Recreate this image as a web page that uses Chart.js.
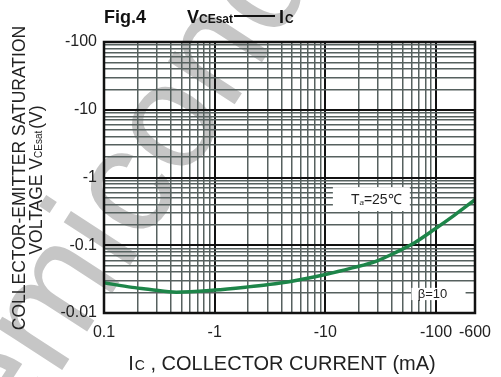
<!DOCTYPE html>
<html>
<head>
<meta charset="utf-8">
<script src="https://cdn.jsdelivr.net/npm/chart.js@4.4.0/dist/chart.umd.min.js"></script>
<style>
  body { margin: 0; background: #fff; }
  #wrap { width: 501px; height: 377px; position: relative; }
</style>
</head>
<body>
<div id="wrap"><canvas id="chart"></canvas></div>
<script>
// VCEsat vs Ic curve (magnitudes: mA and V)
const icValues  = [0.1, 0.18, 0.26, 0.45, 1, 2, 3, 5, 10, 17.5, 28.6, 43, 64.6, 97, 146, 225];
const vceValues = [0.0279, 0.0239, 0.0223, 0.0203, 0.0218, 0.0243, 0.0262, 0.0295, 0.037, 0.0463, 0.058, 0.078, 0.11, 0.172, 0.276, 0.47];

// the right edge is labelled -600 in the original, but sits where ~225 would on the log grid
const X_MIN = 0.1, X_MAX = 225;
const Y_MIN = 0.01, Y_MAX = 100;
const xTickValues = [0.1, 1, 10, 100, 225];
const xTickLabels = ['0.1', '-1', '-10', '-100', '-600'];
const yTickValues = [0.01, 0.1, 1, 10, 100];
const yTickLabels = ['-0.01', '-0.1', '-1', '-10', '-100'];

const FONT = '"Liberation Sans", Arial, sans-serif';

// log grid: 1..9 in every decade, plus the last value
function gridTicks(decades, last) {
    var out = [];
    decades.forEach(function(d) {
        for (var k = 1; k <= 9; k++) out.push(+(d * k).toPrecision(6));
    });
    out.push(last);
    return out.map(function(v) { return { value: v }; });
}

function labelFor(values, labels, v) {
    for (var i = 0; i < values.length; i++) {
        if (Math.abs(values[i] - v) / values[i] < 1e-6) return labels[i];
    }
    return '';
}

function isMajor(v) {
    var l = Math.log10(v);
    return Math.abs(l - Math.round(l)) < 1e-6;
}

// draws a row of text runs (font changes for subscripts) starting at x
function drawRuns(ctx, runs, x, y) {
    runs.forEach(function(r) {
        ctx.font = r.font;
        ctx.fillText(r.t, x, y + (r.dy || 0));
        x += ctx.measureText(r.t).width + (r.gap || 0);
    });
    return x;
}
function runsWidth(ctx, runs) {
    var w = 0;
    runs.forEach(function(r) { ctx.font = r.font; w += ctx.measureText(r.t).width + (r.gap || 0); });
    return w;
}

const extras = {
    id: 'extras',
    beforeDraw: function(chart) {
        var ctx = chart.ctx;
        ctx.save();
        ctx.fillStyle = '#fff';
        ctx.fillRect(0, 0, chart.width, chart.height);
        // watermark
        ctx.translate(-78, 510);
        ctx.rotate(-57 * Math.PI / 180);
        ctx.fillStyle = '#c6c6c6';
        ctx.font = '150px ' + FONT;
        ctx.textBaseline = 'middle';
        ctx.fillText('Semiconductor', 0, 0);
        ctx.restore();
    },
    beforeDatasetsDraw: function(chart) {
        var ctx = chart.ctx, xs = chart.scales.x, ys = chart.scales.y;
        ctx.save();
        ctx.fillStyle = '#fff';
        // Ta box
        var x1 = xs.getPixelForValue(11.7), x2 = xs.getPixelForValue(58);
        var y1 = ys.getPixelForValue(0.72), y2 = ys.getPixelForValue(0.32);
        ctx.fillRect(x1, y1, x2 - x1, y2 - y1);
        // beta box
        var bx1 = xs.getPixelForValue(60), bx2 = xs.getPixelForValue(185);
        var by1 = ys.getPixelForValue(0.0235), by2 = ys.getPixelForValue(0.0155);
        ctx.fillRect(bx1, by1, bx2 - bx1, by2 - by1);

        ctx.fillStyle = '#222';
        ctx.textBaseline = 'alphabetic';
        drawRuns(ctx, [
            { t: 'T', font: '14px ' + FONT },
            { t: 'a', font: 'italic 8px ' + FONT, dy: 1 },
            { t: '=25\u2103', font: '14px ' + FONT }
        ], x1 + 18, y1 + 17);
        ctx.font = '13px ' + FONT;
        ctx.textAlign = 'center';
        ctx.fillText('\u03b2=10', (bx1 + bx2) / 2 - 6, by2 - 2);
        ctx.restore();
    },
    afterDraw: function(chart) {
        var ctx = chart.ctx, a = chart.chartArea;
        ctx.save();
        // frame
        ctx.strokeStyle = '#111';
        ctx.lineWidth = 2.5;
        ctx.strokeRect(a.left, a.top, a.right - a.left, a.bottom - a.top);

        ctx.fillStyle = '#111';
        ctx.textBaseline = 'alphabetic';
        // title
        drawRuns(ctx, [{ t: 'Fig.4', font: 'bold 18px ' + FONT }], 104, 23);
        var tx = drawRuns(ctx, [
            { t: 'V', font: 'bold 18px ' + FONT },
            { t: 'CEsat', font: 'bold 12px ' + FONT }
        ], 187, 23);
        ctx.fillRect(tx + 1, 15, 41, 2);
        drawRuns(ctx, [
            { t: 'I', font: 'bold 18px ' + FONT, gap: 1 },
            { t: 'C', font: 'bold 12px ' + FONT }
        ], tx + 46, 23);

        // x axis title
        ctx.fillStyle = '#222';
        var xr = [
            { t: 'I', font: '20px ' + FONT, gap: 1 },
            { t: 'C', font: '14px ' + FONT },
            { t: ' , COLLECTOR CURRENT (mA)', font: '20px ' + FONT }
        ];
        drawRuns(ctx, xr, 282 - runsWidth(ctx, xr) / 2, 370);

        // y axis title, two rotated lines
        ctx.save();
        ctx.translate(25, 178);
        ctx.rotate(-Math.PI / 2);
        var l1 = [{ t: 'COLLECTOR-EMITTER SATURATION', font: '17.5px ' + FONT }];
        drawRuns(ctx, l1, -runsWidth(ctx, l1) / 2, 0);
        ctx.restore();
        ctx.save();
        ctx.translate(42, 180);
        ctx.rotate(-Math.PI / 2);
        var l2 = [
            { t: 'VOLTAGE V', font: '17.5px ' + FONT },
            { t: 'CEsat', font: '10px ' + FONT, gap: 2 },
            { t: '(V)', font: '17.5px ' + FONT }
        ];
        drawRuns(ctx, l2, -runsWidth(ctx, l2) / 2, 0);
        ctx.restore();
        ctx.restore();
    }
};

function gridColor(ctx) {
    return isMajor(ctx.tick.value) ? '#111' : '#56615f';
}
function gridWidth(ctx) {
    return isMajor(ctx.tick.value) ? 2 : 1.5;
}

new Chart(document.getElementById('chart'), {
    type: 'line',
    data: {
        datasets: [{
            data: icValues.map(function(v, i) { return { x: v, y: vceValues[i] }; }),
            borderColor: '#1d8549',
            borderWidth: 3.5,
            pointRadius: 0,
            cubicInterpolationMode: 'monotone',
            fill: false
        }]
    },
    options: {
        responsive: true,
        maintainAspectRatio: false,
        animation: false,
        layout: { padding: { top: 42, right: 19, left: 0, bottom: 0 } },
        plugins: { legend: { display: false }, tooltip: { enabled: false } },
        scales: {
            x: {
                type: 'logarithmic',
                min: X_MIN,
                max: X_MAX,
                afterBuildTicks: function(scale) {
                    scale.ticks = gridTicks([0.1, 1, 10], 100).concat([{ value: X_MAX }]);
                },
                afterFit: function(scale) { scale.height = 64; },
                border: { display: false },
                grid: { color: gridColor, lineWidth: gridWidth, drawTicks: false },
                ticks: {
                    autoSkip: false,
                    maxRotation: 0,
                    padding: 10,
                    color: '#222',
                    font: { family: FONT, size: 16 },
                    callback: function(v) { return labelFor(xTickValues, xTickLabels, v); }
                }
            },
            y: {
                type: 'logarithmic',
                min: Y_MIN,
                max: Y_MAX,
                afterBuildTicks: function(scale) {
                    scale.ticks = gridTicks([0.01, 0.1, 1, 10], 100);
                },
                afterFit: function(scale) { scale.width = 104; },
                border: { display: false },
                grid: { color: gridColor, lineWidth: gridWidth, drawTicks: false },
                ticks: {
                    autoSkip: false,
                    padding: 7,
                    color: '#222',
                    font: { family: FONT, size: 16 },
                    callback: function(v) { return labelFor(yTickValues, yTickLabels, v); }
                }
            }
        }
    },
    plugins: [extras]
});
</script>
</body>
</html>
